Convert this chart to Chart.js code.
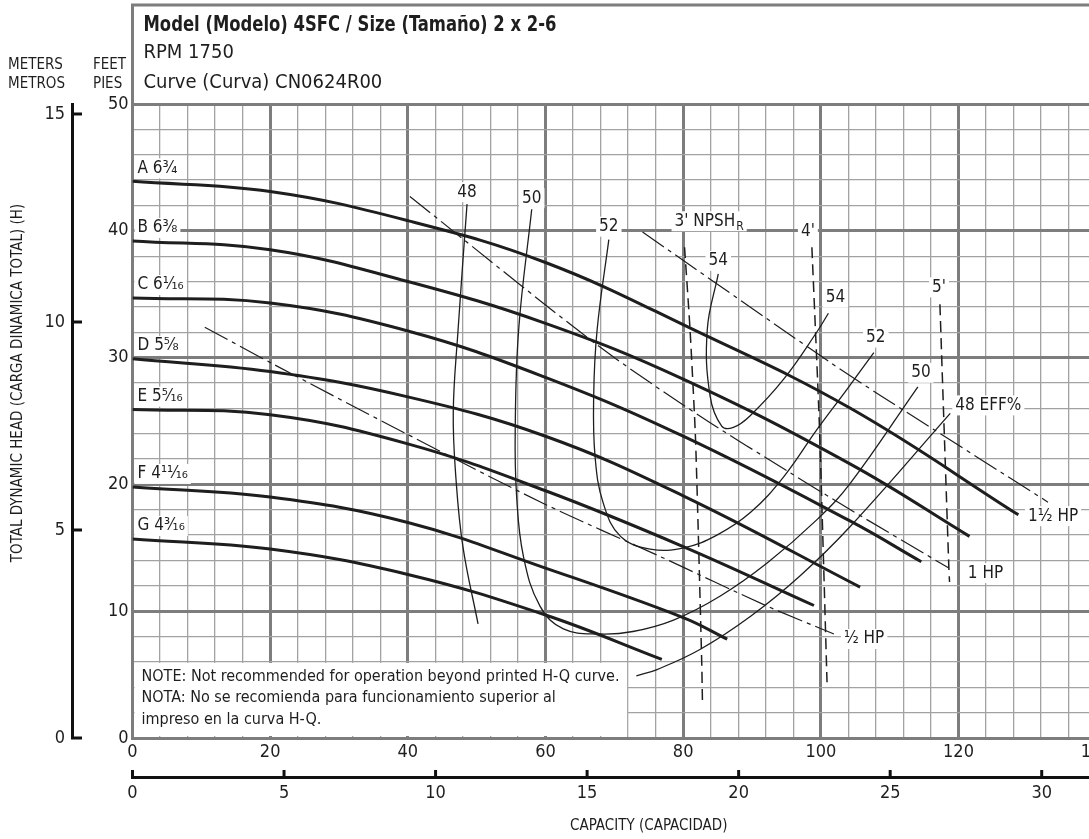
<!DOCTYPE html>
<html>
<head>
<meta charset="utf-8">
<script src="https://cdn.jsdelivr.net/npm/chart.js@4.4.0/dist/chart.umd.min.js"></script>
<style>
  html, body { margin: 0; padding: 0; overflow: hidden; background: #fff; }
</style>
</head>
<body>
<canvas id="pumpChart" width="1170" height="839"></canvas>
<script>
// axis ticks
const gpmTicks = [0, 20, 40, 60, 80, 100, 120, 140];
const feetTicks = [0, 10, 20, 30, 40, 50];
const meterTicks = [0, 5, 10, 15];
const cubicTicks = [0, 5, 10, 15, 20, 25, 30];
const FT_PER_M = 3.2808;
const M3H_PER_GPM = 0.22712;

// impeller curves [gpm, ft]
const impellerNames = ["A 6³⁄₄", "B 6³⁄₈", "C 6¹⁄₁₆", "D 5⁵⁄₈", "E 5⁵⁄₁₆", "F 4¹¹⁄₁₆", "G 4³⁄₁₆"];
const curveA = [[0, 43.9], [20, 43.1], [40, 40.8], [60, 37.5], [81.5, 32.2], [104.3, 26.0], [128.7, 17.6]];
const curveB = [[0, 39.2], [20, 38.5], [40, 36.0], [60, 32.7], [80, 28.3], [104.3, 21.6], [121.6, 15.9]];
const curveC = [[0, 34.7], [20, 34.3], [40, 32.1], [59.7, 28.5], [80, 23.8], [104.3, 17.1], [114.6, 13.9]];
const curveD = [[0, 29.9], [20, 28.9], [40, 26.9], [60, 23.8], [80, 19.1], [105.7, 11.9]];
const curveE = [[0, 25.9], [20, 25.5], [40, 23.2], [60, 19.5], [80, 15.1], [99, 10.45]];
const curveF = [[0, 19.8], [20, 19.0], [40, 17.0], [60, 13.4], [80, 9.5], [86.4, 7.8]];
const curveG = [[0, 15.7], [20, 14.9], [40, 12.9], [60, 9.7], [76.9, 6.2]];

// efficiency curves
const eff48Left = [[48.6, 42.1], [47.3, 32.2], [46.6, 25.7], [47.0, 20.4], [48.0, 15.1], [50.2, 9.0]];
const eff48Right = [[73.2, 4.9], [76.2, 5.4], [82.5, 7.0], [89.8, 9.6], [97.0, 12.8], [104.3, 16.7], [118.8, 25.6]];
const eff50 = [[58.0, 41.7], [56.1, 32.2], [55.6, 24.3], [55.8, 19.1], [56.8, 14.3], [59.2, 10.4], [62.6, 8.6], [67.9, 8.2],
  [72.7, 8.4], [78.6, 9.3], [85.4, 11.2], [92.2, 13.8], [99.4, 17.2], [104.3, 20.1], [114.1, 27.7]];
const eff52 = [[69.2, 39.3], [67.5, 32.2], [67.0, 27.0], [67.2, 22.2], [68.4, 18.5], [70.9, 15.9], [75.2, 14.9], [80.1, 15.0],
  [84.9, 16.0], [89.8, 17.8], [94.6, 20.6], [99.4, 24.3], [103.8, 27.5], [107.7, 30.4]];
const eff54 = [[85.1, 36.6], [83.5, 32.2], [83.9, 27.0], [85.6, 24.6], [87.3, 24.5], [89.7, 25.4], [94.6, 28.3], [99.4, 32.0], [101.1, 33.5]];

// NPSHr
const npsh3 = [[80.2, 38.7], [81.0, 32.2], [81.8, 23.5], [82.7, 5.9], [82.8, 2.9]];
const npsh4 = [[98.7, 38.7], [99.8, 24.5], [100.9, 4.4]];
const npsh5 = [[117.3, 34.2], [118.6, 13.4], [118.7, 12.3]];

// horsepower lines
const hp150 = [[74.1, 39.9], [101.4, 29.6], [108.7, 27.0], [133.0, 18.6]];
const hp100 = [[40.3, 42.7], [67.5, 31.0], [82.7, 25.3], [95.6, 20.9], [104.3, 18.0], [118.6, 13.4]];
const hp050 = [[10.5, 32.4], [20.4, 29.5], [39.4, 24.1], [59.7, 18.5], [76.7, 14.3], [92.2, 10.4], [101.9, 8.2]];

const FONT = "'Liberation Sans Narrow', 'DejaVu Sans Condensed', sans-serif";
const INK = "#1e1e1e";
const GRID_MAJOR = "#7d7d7d";
const GRID_MINOR = "#a2a2a2";

function curve(points, width, dash, tension, tags) {
  return {
    data: points.map(p => ({ x: p[0], y: p[1] })),
    showLine: true,
    pointRadius: 0,
    borderColor: INK,
    borderWidth: width,
    borderDash: dash,
    tension: tension,
    fill: false,
    tags: tags || [],
  };
}

const impellers = [curveA, curveB, curveC, curveD, curveE, curveF, curveG];
const EFF_DASH = [];
const NPSH_DASH = [11, 6];
const HP_DASH = [26, 5, 4, 5];

const datasets = [];
impellers.forEach((c, i) => {
  datasets.push(curve(c, 3, [], 0.4, [{ text: impellerNames[i], at: "first", left: 5, dy: -13 }]));
});
datasets.push(curve(eff48Left, 1.3, EFF_DASH, 0.4, [{ text: "48", at: "first", dy: -12, center: true }]));
datasets.push(curve(eff48Right, 1.3, EFF_DASH, 0.4, [{ text: "48 EFF%", at: "last", dx: 5, dy: -8 }]));
datasets.push(curve(eff50, 1.3, EFF_DASH, 0.4, [{ text: "50", at: "first", dy: -11, center: true },
  { text: "50", at: "last", dx: 3, dy: -14, center: true }]));
datasets.push(curve(eff52, 1.3, EFF_DASH, 0.4, [{ text: "52", at: "first", dy: -13, center: true },
  { text: "52", at: "last", dx: 2, dy: -15, center: true }]));
datasets.push(curve(eff54, 1.3, EFF_DASH, 0.4, [{ text: "54", at: "first", dy: -13, center: true },
  { text: "54", at: "last", dx: 7, dy: -16, center: true }]));
datasets.push(curve(npsh3, 1.5, NPSH_DASH, 0.2, [{ text: "3' NPSH", sub: "R", at: "first", dx: -10, dy: -26 }]));
datasets.push(curve(npsh4, 1.5, NPSH_DASH, 0.2, [{ text: "4'", at: "first", dx: -4, dy: -16, center: true }]));
datasets.push(curve(npsh5, 1.5, NPSH_DASH, 0.2, [{ text: "5'", at: "first", dx: -1, dy: -17, center: true }]));
datasets.push(curve(hp150, 1.2, HP_DASH, 0.3, [{ text: "1½ HP", at: "last", dx: -20, dy: 14 }]));
datasets.push(curve(hp100, 1.2, HP_DASH, 0.3, [{ text: "1 HP", at: "last", dx: 19, dy: 5 }]));
datasets.push(curve(hp050, 1.2, HP_DASH, 0.3, [{ text: "½ HP", at: "last", dx: 10, dy: 5 }]));

// labels with white boxes
const tagPlugin = {
  id: "tags",
  afterDatasetsDraw(chart) {
    const { ctx, chartArea, scales: { x, y } } = chart;
    ctx.save();
    ctx.textBaseline = "middle";
    chart.data.datasets.forEach(ds => {
      ds.tags.forEach(t => {
        const p = t.at === "last" ? ds.data[ds.data.length - 1] : ds.data[0];
        let px = t.left != null ? chartArea.left + t.left : x.getPixelForValue(p.x) + (t.dx || 0);
        const py = y.getPixelForValue(p.y) + (t.dy || 0);
        ctx.font = "17px " + FONT;
        let w = ctx.measureText(t.text).width;
        let ws = 0;
        if (t.sub) { ctx.font = "12px " + FONT; ws = ctx.measureText(t.sub).width + 1; }
        if (t.center) px -= (w + ws) / 2;
        ctx.fillStyle = "#fff";
        ctx.fillRect(px - 3, py - 10, w + ws + 6, 20);
        ctx.fillStyle = INK;
        ctx.font = "17px " + FONT;
        ctx.textAlign = "left";
        ctx.fillText(t.text, px, py);
        if (t.sub) {
          ctx.font = "12px " + FONT;
          ctx.fillText(t.sub, px + w + 1, py + 6);
        }
      });
    });
    ctx.restore();
  }
};

// header box, note box, axis extras
const framePlugin = {
  id: "frame",
  beforeDatasetsDraw(chart) {
    const { ctx, scales: { x, y } } = chart;
    const l = x.getPixelForValue(0), r = x.getPixelForValue(72);
    const t = y.getPixelForValue(6), b = y.getPixelForValue(0);
    ctx.save();
    ctx.fillStyle = "#fff";
    ctx.fillRect(l + 2, t + 1, r - l - 3, b - t - 3);
    ctx.fillStyle = INK;
    ctx.font = "16px " + FONT;
    ctx.textBaseline = "middle";
    ctx.fillText("NOTE: Not recommended for operation beyond printed H-Q curve.", l + 9, t + 15);
    ctx.fillText("NOTA: No se recomienda para funcionamiento superior al", l + 9, t + 36);
    ctx.fillText("impreso en la curva H-Q.", l + 9, t + 58);
    ctx.restore();
  },
  afterDraw(chart) {
    const { ctx, chartArea, width, scales: { yM, x2 } } = chart;
    ctx.save();
    // header frame
    ctx.strokeStyle = GRID_MAJOR;
    ctx.lineWidth = 3;
    ctx.beginPath();
    ctx.moveTo(chartArea.left, chartArea.top);
    ctx.lineTo(chartArea.left, 5);
    ctx.lineTo(width, 5);
    ctx.stroke();
    ctx.fillStyle = INK;
    ctx.textBaseline = "middle";
    ctx.textAlign = "left";
    // bold title is a condensed face in the original
    ctx.save();
    ctx.translate(chartArea.left + 11, 25);
    ctx.scale(0.83, 1);
    ctx.font = "bold 22px " + FONT;
    ctx.fillText("Model (Modelo) 4SFC / Size (Tamaño) 2 x 2-6", 0, 0);
    ctx.restore();
    ctx.font = "20px " + FONT;
    ctx.fillText("RPM 1750", chartArea.left + 11, 53);
    ctx.fillText("Curve (Curva) CN0624R00", chartArea.left + 11, 83);
    ctx.font = "15px " + FONT;
    ctx.fillText("METERS", 8, 65);
    ctx.fillText("METROS", 8, 84);
    ctx.fillText("FEET", 93, 65);
    ctx.fillText("PIES", 93, 84);
    // y title
    ctx.save();
    ctx.translate(18, 383);
    ctx.rotate(-Math.PI / 2);
    ctx.textAlign = "center";
    ctx.font = "15px " + FONT;
    ctx.fillText("TOTAL DYNAMIC HEAD (CARGA DINAMICA TOTAL) (H)", 0, 0);
    ctx.restore();
    // inward ticks on secondary axes
    ctx.strokeStyle = "#111";
    ctx.lineWidth = 3;
    meterTicks.forEach(v => {
      const py = yM.getPixelForValue(v);
      ctx.beginPath();
      ctx.moveTo(yM.right - 1, py);
      ctx.lineTo(yM.right + 10, py);
      ctx.stroke();
    });
    cubicTicks.forEach(v => {
      const px = x2.getPixelForValue(v);
      ctx.beginPath();
      ctx.moveTo(px, x2.top + 1);
      ctx.lineTo(px, x2.top - 7);
      ctx.stroke();
    });
    ctx.restore();
  }
};

Chart.defaults.font.family = FONT;
Chart.defaults.color = INK;

new Chart(document.getElementById("pumpChart"), {
  type: "scatter",
  data: { datasets: datasets },
  options: {
    responsive: false,
    animation: false,
    layout: { padding: { top: 104, right: 5, left: 0, bottom: 0 } },
    plugins: { legend: { display: false }, tooltip: { enabled: false } },
    scales: {
      x: {
        type: "linear", position: "bottom", min: 0, max: 150, weight: 0,
        afterFit: s => { s.height = 39; },
        ticks: {
          stepSize: 4, autoSkip: false, maxRotation: 0, padding: 4,
          font: { size: 18 },
          callback: v => (gpmTicks.includes(v) ? v : ""),
        },
        grid: {
          drawTicks: false,
          color: c => (c.tick && c.tick.value % 20 === 0 ? GRID_MAJOR : GRID_MINOR),
          lineWidth: c => (c.tick && c.tick.value % 20 === 0 ? 3 : 1.3),
        },
        border: { color: GRID_MAJOR, width: 3 },
      },
      x2: {
        type: "linear", position: "bottom", min: 0, max: 150 * M3H_PER_GPM, weight: 1,
        afterFit: s => { s.height = 62; },
        afterBuildTicks: s => { s.ticks = cubicTicks.map(v => ({ value: v })); },
        ticks: { padding: 6, maxRotation: 0, font: { size: 18 } },
        grid: { display: false, drawTicks: false },
        border: { color: "#111", width: 3 },
        title: { display: true, text: "CAPACITY (CAPACIDAD)", font: { size: 15 }, padding: { top: 2, bottom: 4 } },
      },
      y: {
        type: "linear", position: "left", min: 0, max: 50, weight: 0,
        afterFit: s => { s.width = 60.5; },
        ticks: {
          stepSize: 2, autoSkip: false, padding: 4,
          font: { size: 18 },
          callback: v => (feetTicks.includes(v) ? v : ""),
        },
        grid: {
          drawTicks: false,
          color: c => (c.tick && c.tick.value % 10 === 0 ? GRID_MAJOR : GRID_MINOR),
          lineWidth: c => (c.tick && c.tick.value % 10 === 0 ? 3 : 1.3),
        },
        border: { color: GRID_MAJOR, width: 3 },
      },
      yM: {
        type: "linear", position: "left", min: 0, max: 50 / FT_PER_M, weight: 1,
        afterFit: s => { s.width = 72; },
        afterBuildTicks: s => { s.ticks = meterTicks.map(v => ({ value: v })); },
        ticks: { padding: 7, font: { size: 18 } },
        grid: { display: false, drawTicks: false },
        border: { color: "#111", width: 3 },
      },
    },
  },
  plugins: [framePlugin, tagPlugin],
});
</script>
</body>
</html>
